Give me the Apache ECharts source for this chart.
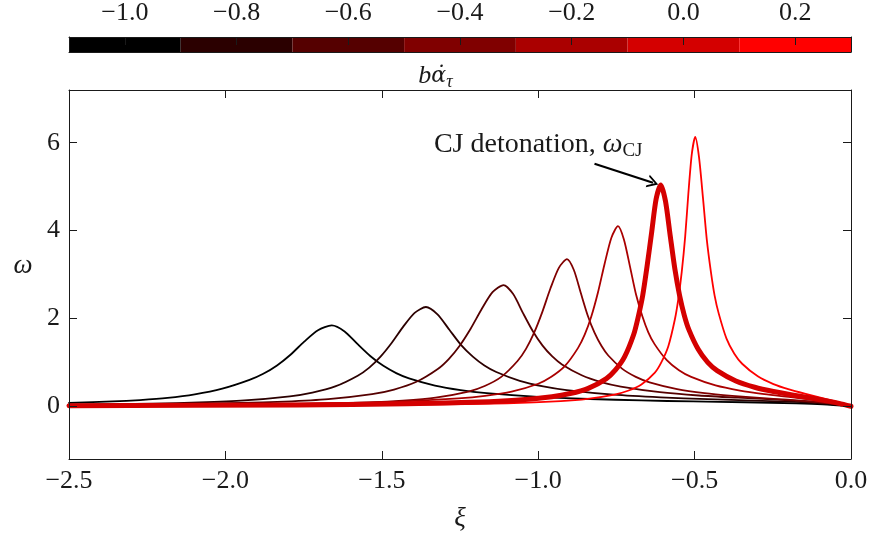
<!DOCTYPE html>
<html>
<head>
<meta charset="utf-8">
<script src="https://cdn.jsdelivr.net/npm/echarts@6/dist/echarts.min.js"></script>
<style>
  html, body { margin: 0; padding: 0; background: #ffffff; }
  #chart { width: 871px; height: 537px; }
</style>
</head>
<body>
<div id="chart"></div>
<script>
// Colour bar: one bin per value of b·dα/dτ
const cbTicks = [-1.0, -0.8, -0.6, -0.4, -0.2, 0.0, 0.2];
const cbColors = ['#000000', '#2b0000', '#550000', '#800000', '#aa0000', '#d40000', '#ff0000'];
const cbRange = [-1.1, 0.3];

// Main axes ticks
const xiTicks = [-2.5, -2.0, -1.5, -1.0, -0.5, 0.0];
const omegaTicks = [0, 2, 4, 6];
const xiRange = [-2.5, 0.0];
const omegaRange = [-1.2, 7.2];

// omega(xi) profiles, one per b·dα/dτ value, as [xi, omega] pairs
const curveM10 = [[-2.5,0.077],[-2.36,0.11],[-2.273,0.142],[-2.185,0.19],[-2.098,0.27],[-2.01,0.4],[-1.923,0.6],[-1.879,0.74],[-1.835,0.93],[-1.791,1.18],[-1.748,1.472],[-1.704,1.731],[-1.66,1.84],[-1.619,1.704],[-1.578,1.419],[-1.536,1.139],[-1.495,0.92],[-1.454,0.756],[-1.413,0.635],[-1.33,0.471],[-1.248,0.368],[-1.165,0.30],[-1.0,0.215],[-0.835,0.166],[-0.67,0.133],[-0.505,0.11],[-0.34,0.092],[-0.175,0.068],[-0.09,0.046],[0,0]];
const curveM08 = [[-2.5,0.036],[-2.229,0.061],[-2.084,0.087],[-1.939,0.133],[-1.794,0.226],[-1.722,0.312],[-1.649,0.452],[-1.577,0.696],[-1.54,0.881],[-1.504,1.13],[-1.468,1.446],[-1.432,1.808],[-1.395,2.127],[-1.359,2.26],[-1.322,2.093],[-1.284,1.742],[-1.247,1.399],[-1.209,1.13],[-1.172,0.929],[-1.134,0.78],[-1.059,0.579],[-0.984,0.452],[-0.909,0.368],[-0.759,0.264],[-0.609,0.203],[-0.459,0.162],[-0.309,0.13],[-0.159,0.093],[-0.084,0.061],[0,0]];
const curveM06 = [[-2.5,0.028],[-2.231,0.043],[-1.951,0.075],[-1.811,0.106],[-1.671,0.162],[-1.531,0.276],[-1.461,0.381],[-1.391,0.552],[-1.321,0.85],[-1.286,1.076],[-1.251,1.38],[-1.216,1.766],[-1.181,2.208],[-1.146,2.597],[-1.111,2.76],[-1.08,2.556],[-1.049,2.128],[-1.017,1.708],[-0.986,1.38],[-0.955,1.134],[-0.924,0.952],[-0.861,0.707],[-0.799,0.552],[-0.736,0.45],[-0.611,0.323],[-0.486,0.246],[-0.361,0.195],[-0.236,0.151],[-0.111,0.095],[-0.048,0.05],[0,0]];
const curveM04 = [[-2.5,0.015],[-2.168,0.023],[-1.958,0.033],[-1.748,0.052],[-1.538,0.091],[-1.433,0.129],[-1.328,0.197],[-1.223,0.335],[-1.171,0.462],[-1.118,0.67],[-1.066,1.031],[-1.039,1.307],[-1.013,1.675],[-0.987,2.144],[-0.961,2.68],[-0.934,3.152],[-0.908,3.35],[-0.886,3.102],[-0.864,2.583],[-0.842,2.074],[-0.82,1.675],[-0.798,1.377],[-0.776,1.156],[-0.732,0.858],[-0.688,0.67],[-0.644,0.546],[-0.556,0.392],[-0.468,0.299],[-0.38,0.238],[-0.292,0.191],[-0.204,0.15],[-0.116,0.103],[-0.072,0.072],[0,0]];
const curveM02 = [[-2.5,0.025],[-1.935,0.046],[-1.595,0.079],[-1.425,0.113],[-1.255,0.178],[-1.17,0.236],[-1.085,0.332],[-1.0,0.513],[-0.958,0.672],[-0.915,0.914],[-0.873,1.324],[-0.851,1.636],[-0.83,2.05],[-0.809,2.591],[-0.788,3.235],[-0.766,3.838],[-0.745,4.1],[-0.726,3.797],[-0.706,3.161],[-0.687,2.538],[-0.667,2.05],[-0.648,1.685],[-0.628,1.415],[-0.589,1.05],[-0.55,0.82],[-0.511,0.668],[-0.433,0.474],[-0.355,0.358],[-0.277,0.278],[-0.199,0.214],[-0.121,0.149],[-0.082,0.11],[-0.043,0.064],[0,0]];
const curveP00 = [[-2.5,0.015],[-1.768,0.032],[-1.42,0.057],[-1.188,0.097],[-1.072,0.139],[-0.956,0.219],[-0.898,0.29],[-0.84,0.408],[-0.782,0.63],[-0.753,0.827],[-0.724,1.124],[-0.695,1.628],[-0.681,2.011],[-0.666,2.52],[-0.652,3.185],[-0.637,3.977],[-0.623,4.717],[-0.608,5.04],[-0.593,4.667],[-0.578,3.886],[-0.563,3.12],[-0.548,2.52],[-0.533,2.071],[-0.518,1.739],[-0.488,1.29],[-0.458,0.998],[-0.428,0.81],[-0.368,0.575],[-0.308,0.433],[-0.248,0.335],[-0.188,0.258],[-0.128,0.188],[-0.068,0.111],[-0.038,0.067],[0,0]];
const curveP02 = [[-2.5,0.01],[-1.788,0.021],[-1.358,0.039],[-1.1,0.069],[-0.928,0.118],[-0.842,0.169],[-0.756,0.266],[-0.713,0.353],[-0.67,0.497],[-0.627,0.766],[-0.606,1.005],[-0.584,1.367],[-0.563,1.98],[-0.552,2.446],[-0.541,3.065],[-0.53,3.874],[-0.52,4.837],[-0.509,5.738],[-0.498,6.13],[-0.486,5.676],[-0.473,4.726],[-0.461,3.794],[-0.448,3.065],[-0.436,2.519],[-0.423,2.115],[-0.398,1.54],[-0.373,1.197],[-0.348,0.968],[-0.298,0.681],[-0.248,0.505],[-0.198,0.383],[-0.148,0.286],[-0.098,0.198],[-0.048,0.105],[-0.023,0.053],[0,0]];

const curves = [curveM10, curveM08, curveM06, curveM04, curveM02, curveP00, curveP02];
const cjIndex = 5;                  // the CJ detonation profile, drawn thick
const cjLabelAt = [-1.0, 5.95];
const cjArrowFrom = [-0.82, 5.52];
const cjArrowTo = [-0.633, 5.09];

const FONT = 'Liberation Serif';
const INK = '#1a1a1a';
const fmtNum = (v, d) => (v < 0 ? '\u2212' : '') + Math.abs(v).toFixed(d);

const chart = echarts.init(document.getElementById('chart'), null, { renderer: 'canvas' });

const tickStyle = { color: INK, width: 1 };
const lineSeries = curves.map((pts, i) => ({
  type: 'line',
  xAxisIndex: 0,
  yAxisIndex: 0,
  data: pts,
  showSymbol: false,
  smooth: 0.25,
  clip: true,
  z: i === cjIndex ? 10 : 2 + i,
  lineStyle: { color: cbColors[i], width: i === cjIndex ? 5 : 1.8, join: 'round', cap: 'round' },
  silent: true,
  animation: false
}));

// annotation on the CJ profile
lineSeries[cjIndex].markPoint = {
  silent: true,
  symbol: 'circle',
  symbolSize: 0,
  data: [{ coord: cjLabelAt }],
  label: {
    show: true,
    position: 'inside',
    formatter: '{t|CJ detonation, }{w|\u03c9}{s|CJ}',
    rich: {
      t: { fontFamily: FONT, fontSize: 28, color: INK },
      w: { fontFamily: FONT, fontSize: 28, fontStyle: 'italic', color: INK },
      s: { fontFamily: FONT, fontSize: 19, color: INK, padding: [12, 0, 0, 0] }
    }
  }
};
lineSeries[cjIndex].markLine = {
  silent: true,
  symbol: ['none', 'path://M0,10 L5,0 L10,10 L8.4,10 L5,3.2 L1.6,10 Z'],
  symbolSize: [13, 11],
  label: { show: false },
  lineStyle: { color: '#000', width: 2.2, type: 'solid' },
  data: [[{ coord: cjArrowFrom }, { coord: cjArrowTo }]]
};

const colorBar = {
  type: 'custom',
  xAxisIndex: 2,
  yAxisIndex: 2,
  silent: true,
  z: 1,
  data: cbTicks.map((v, i) => [v, i]),
  renderItem(params, api) {
    const step = cbTicks[1] - cbTicks[0];
    const v = api.value(0);
    const p0 = api.coord([v - step / 2, 1]);
    const p1 = api.coord([v + step / 2, 0]);
    return {
      type: 'rect',
      shape: { x: p0[0], y: p0[1], width: p1[0] - p0[0], height: p1[1] - p0[1] },
      style: { fill: cbColors[api.value(1)] }
    };
  }
};

const option = {
  animation: false,
  backgroundColor: '#ffffff',
  textStyle: { fontFamily: FONT },
  grid: [
    { left: 69, top: 90, width: 782, height: 371, show: false },
    { left: 69, top: 32, width: 782, height: 20, show: false }
  ],
  xAxis: [
    {
      gridIndex: 0, type: 'value', min: xiRange[0], max: xiRange[1], interval: 0.5,
      position: 'bottom', z: 20,
      axisLine: { show: true, onZero: false, lineStyle: tickStyle },
      axisTick: { show: true, inside: true, length: 8, lineStyle: tickStyle },
      axisLabel: { show: true, fontFamily: FONT, fontSize: 26, color: INK, margin: 9, formatter: v => fmtNum(v, 1) },
      splitLine: { show: false },
      name: '\u03be', nameLocation: 'middle', nameGap: 46,
      nameTextStyle: { fontFamily: FONT, fontSize: 27, fontStyle: 'italic', color: INK }
    },
    {
      gridIndex: 0, type: 'value', min: xiRange[0], max: xiRange[1], interval: 0.5,
      position: 'top', z: 20,
      axisLine: { show: true, onZero: false, lineStyle: tickStyle },
      axisTick: { show: true, inside: true, length: 8, lineStyle: tickStyle },
      axisLabel: { show: false },
      splitLine: { show: false }
    },
    {
      gridIndex: 1, type: 'value', min: cbRange[0], max: cbRange[1],
      position: 'top', z: 20,
      axisLine: { show: true, onZero: false, lineStyle: tickStyle },
      axisTick: { show: true, inside: true, length: 8, lineStyle: tickStyle, customValues: cbTicks },
      axisLabel: { show: true, fontFamily: FONT, fontSize: 26, color: INK, margin: 11, customValues: cbTicks, formatter: v => fmtNum(v, 1) },
      splitLine: { show: false }
    },
    {
      gridIndex: 1, type: 'value', min: cbRange[0], max: cbRange[1],
      position: 'bottom', z: 20,
      axisLine: { show: true, onZero: false, lineStyle: tickStyle },
      axisTick: { show: false },
      axisLabel: { show: false },
      splitLine: { show: false }
    }
  ],
  yAxis: [
    {
      gridIndex: 0, type: 'value', min: omegaRange[0], max: omegaRange[1],
      position: 'left', z: 20,
      axisLine: { show: true, onZero: false, lineStyle: tickStyle },
      axisTick: { show: true, inside: true, length: 8, lineStyle: tickStyle, customValues: omegaTicks },
      axisLabel: { show: true, fontFamily: FONT, fontSize: 26, color: INK, margin: 9, customValues: omegaTicks, formatter: v => fmtNum(v, 0) },
      splitLine: { show: false }
    },
    {
      gridIndex: 0, type: 'value', min: omegaRange[0], max: omegaRange[1],
      position: 'right', z: 20,
      axisLine: { show: true, onZero: false, lineStyle: tickStyle },
      axisTick: { show: true, inside: true, length: 8, lineStyle: tickStyle, customValues: omegaTicks },
      axisLabel: { show: false },
      splitLine: { show: false }
    },
    {
      gridIndex: 1, type: 'value', min: 0, max: 1, position: 'left', z: 20,
      axisLine: { show: true, onZero: false, lineStyle: tickStyle },
      axisTick: { show: false }, axisLabel: { show: false }, splitLine: { show: false }
    },
    {
      gridIndex: 1, type: 'value', min: 0, max: 1, position: 'right', z: 20,
      axisLine: { show: true, onZero: false, lineStyle: tickStyle },
      axisTick: { show: false }, axisLabel: { show: false }, splitLine: { show: false }
    }
  ],
  graphic: [
    {
      // colour-bar title
      type: 'text',
      left: 'center',
      top: 63,
      style: {
        text: '{m|b}{a|\u03b1\u0307}{s|\u03c4}',
        rich: {
          m: { fontFamily: FONT, fontSize: 26, fontStyle: 'italic', fill: INK },
          a: { fontFamily: 'DejaVu Serif', fontSize: 22, fontStyle: 'italic', fill: INK },
          s: { fontFamily: FONT, fontSize: 18, fontStyle: 'italic', fill: INK, padding: [12, 0, 0, 0] }
        }
      }
    },
    {
      // y-axis title
      type: 'text',
      x: 23,
      y: 266,
      style: {
        text: '\u03c9',
        align: 'center',
        verticalAlign: 'middle',
        fontFamily: FONT,
        fontSize: 27,
        fontStyle: 'italic',
        fill: INK
      }
    }
  ],
  series: [colorBar].concat(lineSeries)
};

chart.setOption(option);
</script>
</body>
</html>
